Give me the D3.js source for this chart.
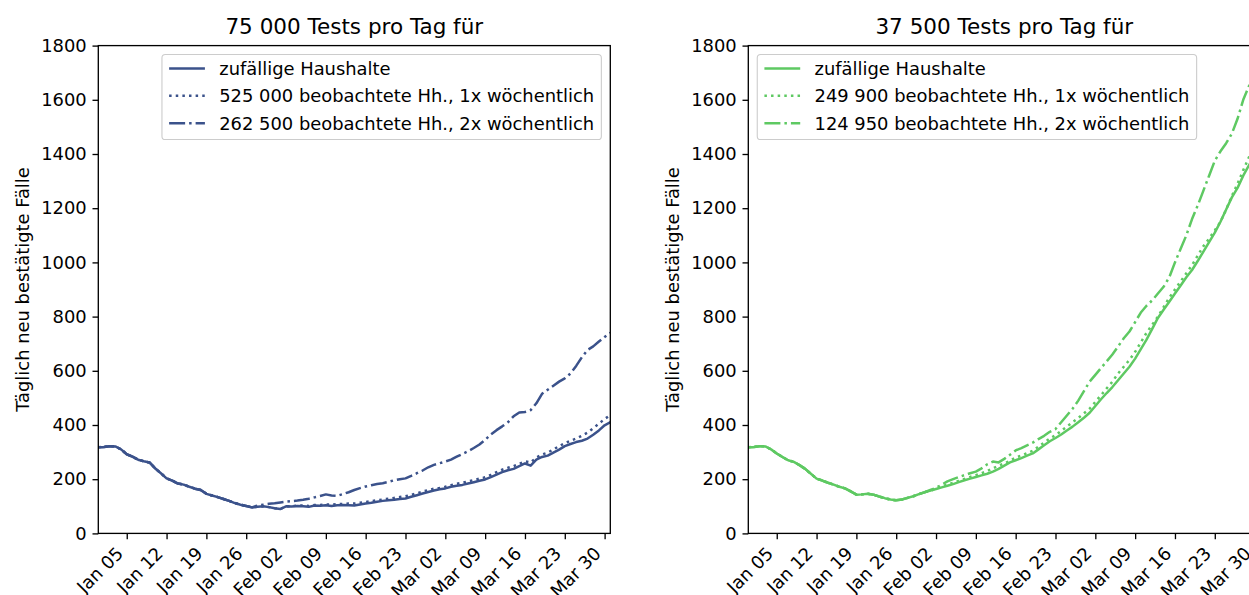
<!DOCTYPE html>
<html><head><meta charset="utf-8">
<script src="https://cdn.jsdelivr.net/npm/d3@7"></script>
<style>
html,body{margin:0;padding:0;background:#fff;overflow:hidden;}
svg{display:block;font-family:"DejaVu Sans",sans-serif;}
</style></head>
<body>
<svg id="chart" width="1249" height="595"></svg>
<script>
// ---------- data ----------
const startDate = "2020-12-31";   // first day of every series (daily values)
const tickDates = ["2021-01-05","2021-01-12","2021-01-19","2021-01-26","2021-02-02","2021-02-09","2021-02-16","2021-02-23","2021-03-02","2021-03-09","2021-03-16","2021-03-23","2021-03-30"];
const tickLabels = ["Jan 05","Jan 12","Jan 19","Jan 26","Feb 02","Feb 09","Feb 16","Feb 23","Mar 02","Mar 09","Mar 16","Mar 23","Mar 30"];
const yTicks = [0,200,400,600,800,1000,1200,1400,1600,1800];

const titles = ["75 000 Tests pro Tag für","37 500 Tests pro Tag für"];
const yLabel = "Täglich neu bestätigte Fälle";
const legendLeft = ["zufällige Haushalte","525 000 beobachtete Hh., 1x wöchentlich","262 500 beobachtete Hh., 2x wöchentlich"];
const legendRight = ["zufällige Haushalte","249 900 beobachtete Hh., 1x wöchentlich","124 950 beobachtete Hh., 2x wöchentlich"];

// left panel (75 000 tests)
const leftRandom = [318,319,322,321,310,292,283,272,266,262,240,222,203,195,184,180,172,165,160,146,140,134,127,120,112,106,101,96,98,100,97,93,90,100,99,101,100,98,103,102,104,101,104,105,104,103,107,110,113,117,120,122,124,127,129,135,141,147,153,158,163,166,172,176,179,184,189,194,199,208,217,226,233,238,248,258,250,272,282,287,298,309,322,330,337,342,350,364,380,399,410];
const leftWeekly1 = [318,319,322,321,310,292,283,272,266,262,240,222,203,195,184,180,172,165,160,146,140,134,127,120,112,106,101,96,98,100,97,93,90,100,101,102,103,101,105,105,107,106,108,109,110,110,113,116,119,122,125,128,131,134,137,142,148,154,160,165,168,172,178,183,187,192,197,202,207,216,226,235,242,248,257,266,262,280,291,298,310,322,333,342,350,360,372,388,405,422,437];
const leftWeekly2 = [318,319,322,321,310,292,283,272,266,262,240,222,203,195,184,180,172,165,160,146,140,134,127,120,112,106,101,96,103,106,109,111,114,117,119,121,124,128,133,138,144,140,139,145,152,160,167,173,178,182,185,190,196,200,203,212,222,232,244,253,259,265,272,283,293,303,315,328,345,365,381,395,410,432,446,448,455,480,515,530,545,560,572,590,618,650,677,690,708,725,740];

// right panel (37 500 tests)
const rightRandom = [318,319,322,321,310,295,282,270,264,252,238,220,202,195,187,180,172,166,155,143,144,146,143,136,130,125,122,125,131,137,145,152,158,164,170,176,182,189,196,202,208,214,220,228,238,250,262,270,278,287,295,310,325,340,352,365,380,394,410,427,445,470,495,518,540,565,590,615,645,680,715,755,795,825,855,885,915,945,972,1005,1040,1075,1110,1150,1195,1240,1275,1320,1358,1395,1430];
const rightWeekly1 = [318,319,322,321,310,295,282,270,264,252,238,220,202,195,187,180,172,166,155,143,144,146,143,136,130,125,122,125,131,137,145,152,158,164,173,180,187,194,201,208,215,222,230,240,250,258,268,280,287,296,305,320,335,350,362,378,394,410,426,443,460,485,510,535,560,590,615,640,670,705,740,770,800,835,870,900,930,960,990,1025,1060,1088,1118,1150,1195,1245,1290,1340,1388,1430,1470];
const rightWeekly2 = [318,319,322,321,310,295,282,270,264,252,238,220,202,195,187,180,172,166,155,143,144,146,143,136,130,125,122,125,131,137,145,152,160,168,180,192,200,208,215,222,228,240,255,265,262,275,290,306,315,325,335,348,360,375,385,410,435,460,490,525,560,585,610,635,660,690,720,745,780,815,840,860,885,910,945,1000,1050,1100,1160,1210,1265,1320,1375,1410,1440,1475,1530,1600,1650,1700,1750];

const colors = ["#3b528b","#5ec962"];

// ---------- layout ----------
const W = 1249, H = 595;
const fs = 17.9;         // tick / legend font size
const titleFs = 21.5;
const panelX = [[98.3,610.3],[748.3,1260.3]];
const yTop = 45.6, yBot = 533.4;
const tickLen = 5.8;
const lw = 2.5;
const dashes = [null, `${lw} ${lw*1.65}`, `${lw*6.4} ${lw*1.6} ${lw} ${lw*1.6}`];

const svg = d3.select("#chart");
svg.append("rect").attr("width",W).attr("height",H).attr("fill","#fff");

const parse = d3.utcParse("%Y-%m-%d");
const d0 = parse(startDate);
const dayMs = 86400000;
const dateAt = i => new Date(d0.getTime() + i*dayMs);

const y = d3.scaleLinear().domain([0,1800]).range([yBot,yTop]);

const panels = [
  {series:[leftRandom,leftWeekly1,leftWeekly2], legend:legendLeft, legendPos:"right"},
  {series:[rightRandom,rightWeekly1,rightWeekly2], legend:legendRight, legendPos:"left"}
];

panels.forEach((p,pi)=>{
  const [xa,xb] = panelX[pi];
  const n = p.series[0].length;
  const x = d3.scaleUtc().domain([dateAt(0), dateAt(n-1)]).range([xa,xb]);
  const g = svg.append("g");
  const col = colors[pi];

  const clipId = "clip"+pi;
  svg.append("clipPath").attr("id",clipId).append("rect")
    .attr("x",xa).attr("y",yTop).attr("width",xb-xa).attr("height",yBot-yTop);

  const line = d3.line().x((d,i)=>x(dateAt(i))).y(d=>y(d));
  p.series.forEach((s,si)=>{
    g.append("path").datum(s)
      .attr("d",line)
      .attr("fill","none")
      .attr("stroke",col)
      .attr("stroke-width",lw)
      .attr("stroke-linejoin","round")
      .attr("stroke-linecap", si===0 ? "square" : "butt")
      .attr("stroke-dasharray",dashes[si])
      .attr("clip-path",`url(#${clipId})`);
  });

  // y axis
  const yAxis = d3.axisLeft(y).tickValues(yTicks).tickSize(tickLen).tickPadding(5.8).tickFormat(d3.format("d"));
  const gy = svg.append("g").attr("transform",`translate(${xa},0)`).call(yAxis);
  gy.select(".domain").remove();
  gy.selectAll(".tick line").attr("stroke","#000").attr("stroke-width",1.33);
  gy.selectAll(".tick text").attr("font-size",fs).attr("fill","#000").attr("font-family","DejaVu Sans");

  // x axis
  const tDates = tickDates.map(parse);
  const xAxis = d3.axisBottom(x).tickValues(tDates).tickSize(tickLen).tickFormat((d,i)=>tickLabels[i]);
  const gx = svg.append("g").attr("transform",`translate(0,${yBot})`).call(xAxis);
  gx.select(".domain").remove();
  gx.selectAll(".tick line").attr("stroke","#000").attr("stroke-width",1.33);
  gx.selectAll(".tick text")
    .attr("font-size",fs).attr("fill","#000").attr("font-family","DejaVu Sans")
    .attr("text-anchor","end")
    .attr("dy",null).attr("y",null)
    .attr("transform",`translate(-3,${tickLen+5.8+0.707*fs*0.76}) rotate(-45)`);

  // spines
  svg.append("rect").attr("x",xa).attr("y",yTop).attr("width",xb-xa).attr("height",yBot-yTop)
    .attr("fill","none").attr("stroke","#000").attr("stroke-width",1.33);

  // title
  svg.append("text").attr("x",(xa+xb)/2).attr("y",34.3)
    .attr("text-anchor","middle").attr("font-size",titleFs).attr("fill","#000")
    .text(titles[pi]);

  // y label
  svg.append("text")
    .attr("transform",`translate(${xa-76},${(yTop+yBot)/2}) rotate(-90)`)
    .attr("text-anchor","middle").attr("dominant-baseline","central")
    .attr("font-size",fs).attr("fill","#000").text(yLabel);

  // legend
  const pad = 0.4*fs, handleLen = 2*fs, handlePad = 0.8*fs, rowH = 27.3, axPad = 0.5*fs;
  const lg = svg.append("g");
  const tmp = lg.append("g");
  const texts = p.legend.map((t,i)=>tmp.append("text").attr("font-size",fs).text(t));
  const maxW = d3.max(texts, t=>t.node().getComputedTextLength());
  tmp.remove();
  const boxW = pad*2 + handleLen + handlePad + maxW;
  const boxH = 85;
  const bx = p.legendPos==="right" ? xb - axPad - boxW : xa + axPad;
  const by = yTop + axPad;
  lg.append("rect").attr("x",bx).attr("y",by).attr("width",boxW).attr("height",boxH)
    .attr("rx",3.4).attr("fill","#fff").attr("fill-opacity",0.8)
    .attr("stroke","#cccccc").attr("stroke-width",1.1);
  p.legend.forEach((t,i)=>{
    const cy = by + 14 + i*rowH;
    lg.append("line").attr("x1",bx+pad).attr("x2",bx+pad+handleLen)
      .attr("y1",cy).attr("y2",cy)
      .attr("stroke",col).attr("stroke-width",lw)
      .attr("stroke-dasharray",dashes[i]);
    lg.append("text").attr("x",bx+pad+handleLen+handlePad).attr("y",cy)
      .attr("dominant-baseline","central").attr("font-size",fs).attr("fill","#000").text(t);
  });
});
</script>
</body></html>
